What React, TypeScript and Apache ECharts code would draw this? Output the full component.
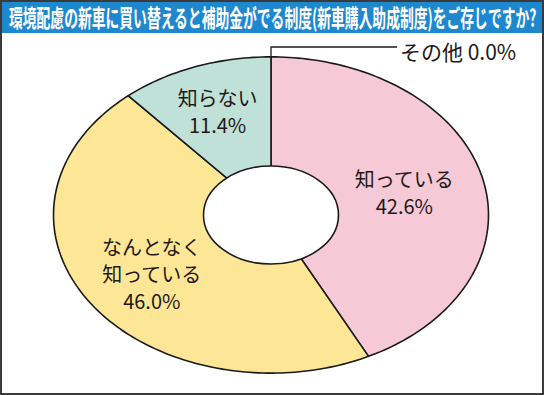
import React, { useEffect, useRef } from 'react';
import * as echarts from 'echarts';

const titleText = '環境配慮の新車に買い替えると補助金がでる制度(新車購入助成制度)をご存じですか?';
const categories = ['知っている', 'なんとなく\n知っている', '知らない', 'その他'];
const values = [42.6, 46.0, 11.4, 0.0];
const colors = ['#F6C9D7', '#FDE796', '#BFE1D8', '#FFFFFF'];
const labelRadius = [0.63, 0.66, 0.7, 1];

export default function App() {
  const ref = useRef<HTMLDivElement>(null);
  useEffect(() => {
    document.body.style.margin = '0';
    const chart = echarts.init(ref.current!, null, { renderer: 'svg' });
    const cx = 271, cy = 215, R = 217.5, k = 0.727, r0 = 67.5;
    const total = values.reduce((a, b) => a + b, 0);
    const starts: number[] = [];
    let acc = 0;
    values.forEach((v) => { starts.push(acc); acc += v; });
    const data = values.map((v, i) => [starts[i], v]);
    const pt = (frac: number, rad: number) => {
      const a = (frac / total) * 2 * Math.PI;
      return [cx + rad * Math.sin(a), cy - rad * Math.cos(a) * k];
    };
    const font = '"Noto Sans CJK JP", "Noto Sans", sans-serif';
    const renderItem = (params: any, api: any) => {
      const i = params.dataIndex;
      const s = api.value(0);
      const v = api.value(1);
      const children: any[] = [];
      const label = categories[i] + (v > 0 ? '\n' : ' ') + v.toFixed(1) + '%';
      if (v > 0) {
        const pts: number[][] = [[cx, cy]];
        const n = Math.max(8, Math.ceil(v * 3));
        for (let j = 0; j <= n; j++) pts.push(pt(s + (v * j) / n, R));
        children.push({
          type: 'polygon',
          shape: { points: pts },
          style: { fill: colors[i], stroke: '#1a1a1a', lineWidth: 1.6, lineJoin: 'round' },
        });
        const [lx, ly] = pt(s + v / 2, R * labelRadius[i]);
        children.push({
          type: 'text',
          z2: 10,
          style: {
            x: lx, y: ly, text: label, fill: '#231815',
            font: `20px ${font}`, lineHeight: 27,
            textAlign: 'center', textVerticalAlign: 'middle',
          },
        });
      } else {
        const [ex, ey] = pt(s, R);
        const ty = 47;
        children.push({
          type: 'polyline',
          shape: { points: [[ex, ey + 1], [ex, ty], [397, ty]] },
          style: { stroke: '#1a1a1a', lineWidth: 1.3, fill: 'none' },
        });
        children.push({
          type: 'text',
          style: {
            x: 400, y: ty + 4, text: label, fill: '#231815',
            font: `21px ${font}`, textAlign: 'left', textVerticalAlign: 'middle',
          },
        });
      }
      return { type: 'group', children };
    };
    chart.setOption({
      animation: false,
      series: [
        {
          type: 'custom',
          coordinateSystem: 'none',
          renderItem,
          data,
          z: 2,
        },
      ],
      graphic: [
        {
          type: 'rect', z: 20,
          shape: { x: 0, y: 0, width: 544, height: 33 },
          style: { fill: '#1E88CE' },
        },
        {
          type: 'text', z: 21, x: 9, y: 17, scaleX: 0.575,
          style: {
            x: 0, y: 0, text: titleText, fill: '#ffffff',
            font: `bold 24px ${font}`, textVerticalAlign: 'middle',
          },
        },
        {
          type: 'ellipse', z: 20,
          shape: { cx, cy, rx: r0, ry: r0 * k },
          style: { fill: '#ffffff', stroke: '#1a1a1a', lineWidth: 1.6 },
        },
        {
          type: 'rect', z: 30,
          shape: { x: 1, y: 1, width: 542, height: 393 },
          style: { fill: 'none', stroke: '#3a3a3a', lineWidth: 2 },
        },
      ],
    });
    return () => chart.dispose();
  }, []);
  return <div ref={ref} style={{ width: 544, height: 395 }} />;
}
